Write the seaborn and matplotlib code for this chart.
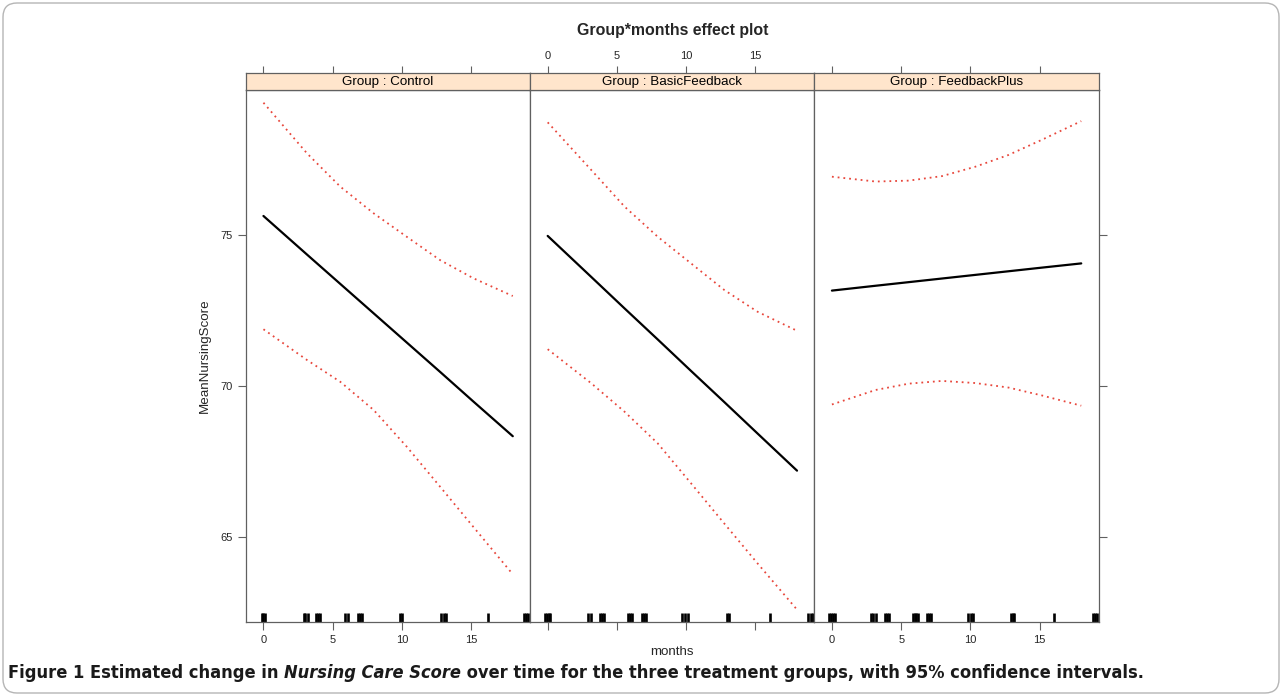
import numpy as np
import pandas as pd
import matplotlib
matplotlib.use("Agg")
import matplotlib.pyplot as plt
import seaborn as sns
from matplotlib.patches import FancyBboxPatch
from matplotlib.transforms import IdentityTransform

sns.set_theme(style="white")
plt.rcParams['font.family'] = ['Liberation Sans', 'DejaVu Sans']

# values
GROUPS = ["Control", "BasicFeedback", "FeedbackPlus"]
MONTHS = [0, 3.15, 5.55, 7.95, 10.35, 12.75, 15.15, 18]

CONTROL_FIT = [75.63, 74.35, 73.38, 72.41, 71.44, 70.47, 69.49, 68.34]
CONTROL_UPPER = [79.38, 77.70, 76.60, 75.72, 74.94, 74.17, 73.57, 72.98]
CONTROL_LOWER = [71.88, 70.86, 70.14, 69.21, 67.99, 66.67, 65.34, 63.77]

BASIC_FIT = [74.97, 73.61, 72.57, 71.54, 70.50, 69.47, 68.43, 67.20]
BASIC_UPPER = [78.73, 77.15, 75.94, 74.94, 74.06, 73.18, 72.46, 71.83]
BASIC_LOWER = [71.22, 70.09, 69.15, 68.10, 66.78, 65.45, 64.13, 62.60]

PLUS_FIT = [73.16, 73.32, 73.44, 73.56, 73.68, 73.80, 73.92, 74.06]
PLUS_UPPER = [76.93, 76.77, 76.80, 76.95, 77.26, 77.65, 78.15, 78.77]
PLUS_LOWER = [69.39, 69.87, 70.08, 70.17, 70.10, 69.95, 69.69, 69.35]

# jittered months of the observations (rug)
CONTROL_RUG = [-0.12, 0.0, 0.12, 2.9, 3.0, 3.22, 3.82, 3.95, 4.1, 5.86, 6.1,
               6.8, 6.95, 7.12, 9.85, 10.02, 12.85, 13.0, 13.18, 16.18,
               18.8, 18.95, 19.12]
BASIC_RUG = [-0.22, -0.08, 0.08, 0.2, 2.88, 3.12, 3.8, 3.95, 4.1, 5.8, 5.95,
             6.12, 6.78, 6.92, 7.12, 9.72, 9.9, 10.1, 12.95, 13.08, 16.03,
             18.82, 18.98, 19.12]
PLUS_RUG = [-0.2, -0.06, 0.08, 0.2, 2.82, 2.98, 3.2, 3.83, 3.98, 4.12, 5.83,
            5.98, 6.1, 6.22, 6.85, 7.0, 7.18, 9.86, 10.02, 10.18, 12.9, 13.05,
            13.17, 16.01, 18.88, 19.02, 19.16]

FITS = [CONTROL_FIT, BASIC_FIT, PLUS_FIT]
UPPERS = [CONTROL_UPPER, BASIC_UPPER, PLUS_UPPER]
LOWERS = [CONTROL_LOWER, BASIC_LOWER, PLUS_LOWER]
RUGS = [CONTROL_RUG, BASIC_RUG, PLUS_RUG]

W, H = 1282, 696
fig = plt.figure(figsize=(W / 100, H / 100), dpi=100)

EDGE = '#606060'
STRIP_FILL = '#FFE5CC'
CI_RED = '#e8473c'
x_left, x_right = 246, 1098.7
panel_w = (x_right - x_left) / 3
p_top, p_bot, s_top = 90, 622, 73.3
XLIM = (-1.26, 19.26)
YLIM = (62.19, 79.8)
XTICKS = [0, 5, 10, 15]
YTICKS = [65, 70, 75]

for i, g in enumerate(GROUPS):
    x0 = x_left + i * panel_w
    ax = fig.add_axes([x0 / W, (H - p_bot) / H, panel_w / W, (p_bot - p_top) / H])
    df = pd.DataFrame({'months': MONTHS, 'fit': FITS[i],
                       'upper': UPPERS[i], 'lower': LOWERS[i]})
    sns.lineplot(data=df, x='months', y='upper', ax=ax, color=CI_RED,
                 lw=1.3, linestyle=(0, (1.0, 2.2)))
    sns.lineplot(data=df, x='months', y='lower', ax=ax, color=CI_RED,
                 lw=1.3, linestyle=(0, (1.0, 2.2)))
    sns.lineplot(data=df, x='months', y='fit', ax=ax, color='black', lw=1.6)
    sns.rugplot(x=RUGS[i], ax=ax, height=0.016, color='black', linewidth=1.9,
                expand_margins=False)
    ax.set_xlim(*XLIM)
    ax.set_ylim(*YLIM)
    ax.set_xlabel('')
    ax.set_ylabel('')
    for sp in ax.spines.values():
        sp.set_color(EDGE)
        sp.set_linewidth(0.9)
    ax.set_xticks(XTICKS)
    ax.set_yticks(YTICKS)
    ax.tick_params(axis='both', which='both', direction='out', length=5.5,
                   width=0.8, color=EDGE, labelsize=8, pad=4,
                   bottom=True, top=False, left=(i == 0), right=(i == 2),
                   labelbottom=(i != 1), labelleft=(i == 0), labelright=False)

    # strip with the group name
    sx = fig.add_axes([x0 / W, (H - p_top) / H, panel_w / W, (p_top - s_top) / H])
    sx.set_facecolor(STRIP_FILL)
    sx.set_xlim(*XLIM)
    sx.set_ylim(0, 1)
    sx.set_yticks([])
    sx.set_xticks(XTICKS)
    sx.xaxis.tick_top()
    sx.tick_params(axis='x', direction='out', length=5, width=0.8, color=EDGE,
                   labelsize=8, pad=3.5, labeltop=(i == 1), labelbottom=False,
                   bottom=False)
    for sp in sx.spines.values():
        sp.set_color(EDGE)
        sp.set_linewidth(0.9)
    sx.text(0.5, 0.45, f"Group : {g}", transform=sx.transAxes, ha='center',
            va='center', fontsize=9.6, color='black')

fig.text(672.3 / W, 1 - 30 / H, "Group*months effect plot", ha='center',
         va='center', fontsize=11.4, fontweight='bold')
fig.text(672.3 / W, 1 - 652 / H, "months", ha='center', va='center', fontsize=9.6)
fig.text(205 / W, 1 - 356 / H, "MeanNursingScore", ha='center', va='center',
         rotation=90, fontsize=9.6)

# rounded frame around the figure
frame = FancyBboxPatch((3, 3), W - 6, H - 6, boxstyle="round,pad=0,rounding_size=14",
                       transform=IdentityTransform(), fill=False,
                       edgecolor='#b5b5b5', lw=1.0)
fig.patches.append(frame)

# caption, built piece by piece and fitted to the caption width of the reference
cap_family = ['DejaVu Sans', 'Liberation Sans']
pieces = [("Figure 1 ", 'normal'),
          ("Estimated change in ", 'normal'),
          ("Nursing Care Score", 'italic'),
          (" over time for the three treatment groups, with 95% confidence intervals.", 'normal')]
renderer = fig.canvas.get_renderer()


def draw_caption(size):
    cx = 8
    made = []
    for txt, style in pieces:
        t = fig.text(cx / W, (H - 673) / H, txt, ha='left', va='center',
                     fontsize=size, fontweight='bold', fontstyle=style,
                     fontstretch='condensed', family=cap_family, color='#1a1a1a')
        cx += t.get_window_extent(renderer).width
        made.append(t)
    return made, cx - 8


made, total = draw_caption(13.5)
for t in made:
    t.remove()
draw_caption(13.5 * 1140 / total)

fig.savefig("out.png", dpi=100)
